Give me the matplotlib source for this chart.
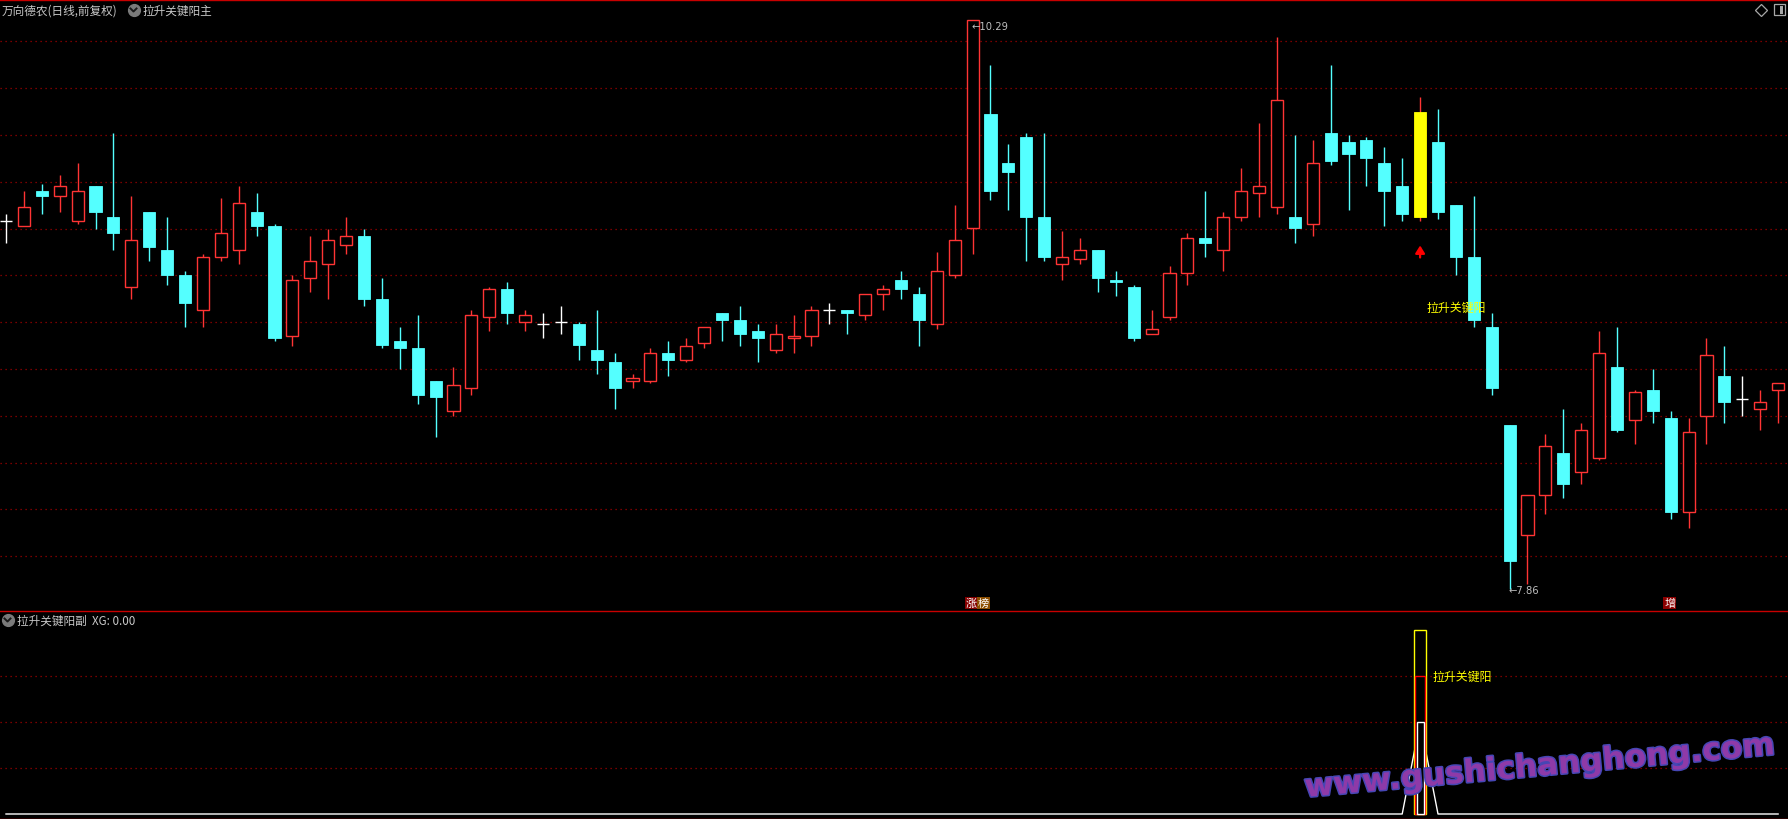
import numpy as np
import matplotlib
matplotlib.use('Agg')
import matplotlib.pyplot as plt
from matplotlib.patches import Rectangle
from matplotlib.lines import Line2D
import matplotlib.patheffects as pe
from matplotlib.transforms import offset_copy

plt.rcParams['font.family'] = ['Noto Sans CJK SC', 'DejaVu Sans']

# ---------------- data (daily OHLC, 100 bars) ----------------
open_ = [9.43, 9.41, 9.56, 9.54, 9.43, 9.58, 9.45, 9.15, 9.47, 9.31,
         9.20, 9.05, 9.28, 9.31, 9.47, 9.41, 8.94, 9.19, 9.25, 9.33,
         9.37, 9.10, 8.92, 8.89, 8.75, 8.62, 8.72, 9.02, 9.14, 9.00,
         8.99, 9.00, 8.99, 8.88, 8.83, 8.75, 8.75, 8.87, 8.84, 8.91,
         9.04, 9.01, 8.96, 8.88, 8.93, 8.94, 9.05, 9.05, 9.03, 9.12,
         9.18, 9.12, 8.99, 9.20, 9.40, 9.89, 9.68, 9.79, 9.45, 9.25,
         9.27, 9.31, 9.18, 9.15, 8.95, 9.02, 9.21, 9.36, 9.31, 9.45,
         9.55, 9.49, 9.45, 9.42, 9.81, 9.77, 9.78, 9.68, 9.58, 9.45,
         9.77, 9.50, 9.28, 8.98, 8.56, 8.09, 8.26, 8.44, 8.36, 8.42,
         8.81, 8.58, 8.71, 8.59, 8.19, 8.60, 8.77, 8.67, 8.63, 8.71]
high = [9.46, 9.56, 9.59, 9.63, 9.68, 9.58, 9.81, 9.54, 9.47, 9.45,
        9.22, 9.29, 9.53, 9.58, 9.55, 9.42, 9.20, 9.37, 9.40, 9.45,
        9.40, 9.19, 8.98, 9.03, 8.75, 8.81, 9.05, 9.15, 9.17, 9.05,
        9.04, 9.07, 9.00, 9.05, 8.87, 8.78, 8.89, 8.92, 8.93, 8.98,
        9.04, 9.07, 8.99, 8.99, 9.03, 9.07, 9.08, 9.05, 9.12, 9.16,
        9.22, 9.15, 9.30, 9.50, 10.29, 10.10, 9.76, 9.81, 9.81, 9.39,
        9.36, 9.31, 9.22, 9.16, 9.05, 9.24, 9.38, 9.56, 9.47, 9.66,
        9.85, 10.22, 9.80, 9.78, 10.10, 9.80, 9.79, 9.75, 9.70, 9.96,
        9.91, 9.50, 9.54, 9.04, 8.56, 8.26, 8.52, 8.63, 8.57, 8.96,
        8.98, 8.71, 8.80, 8.62, 8.59, 8.93, 8.90, 8.77, 8.71, 8.74]
low = [9.34, 9.41, 9.46, 9.47, 9.42, 9.40, 9.31, 9.10, 9.26, 9.16,
       8.98, 8.98, 9.26, 9.25, 9.37, 8.92, 8.90, 9.13, 9.10, 9.29,
       9.07, 8.89, 8.80, 8.65, 8.51, 8.60, 8.69, 8.96, 8.99, 8.96,
       8.93, 8.95, 8.84, 8.78, 8.63, 8.72, 8.74, 8.77, 8.83, 8.89,
       8.92, 8.90, 8.83, 8.87, 8.87, 8.90, 8.99, 8.95, 9.01, 9.05,
       9.10, 8.90, 8.97, 9.19, 9.29, 9.52, 9.48, 9.26, 9.26, 9.18,
       9.25, 9.13, 9.11, 8.92, 8.95, 9.01, 9.16, 9.28, 9.22, 9.43,
       9.45, 9.46, 9.34, 9.37, 9.67, 9.48, 9.58, 9.41, 9.43, 9.43,
       9.44, 9.20, 8.98, 8.69, 7.86, 7.88, 8.18, 8.25, 8.31, 8.41,
       8.53, 8.48, 8.57, 8.16, 8.12, 8.48, 8.57, 8.60, 8.54, 8.57]
close = [9.43, 9.49, 9.54, 9.58, 9.56, 9.47, 9.38, 9.35, 9.32, 9.20,
         9.08, 9.28, 9.38, 9.51, 9.41, 8.93, 9.18, 9.26, 9.35, 9.37,
         9.10, 8.90, 8.89, 8.69, 8.68, 8.73, 9.03, 9.14, 9.04, 9.03,
         8.99, 9.00, 8.90, 8.84, 8.72, 8.76, 8.87, 8.84, 8.90, 8.98,
         9.01, 8.95, 8.93, 8.95, 8.94, 9.05, 9.05, 9.04, 9.12, 9.14,
         9.14, 9.01, 9.22, 9.35, 10.29, 9.56, 9.64, 9.45, 9.28, 9.28,
         9.31, 9.19, 9.17, 8.93, 8.97, 9.21, 9.36, 9.34, 9.45, 9.56,
         9.58, 9.95, 9.40, 9.68, 9.69, 9.72, 9.70, 9.56, 9.46, 9.90,
         9.47, 9.28, 9.01, 8.72, 7.98, 8.26, 8.47, 8.31, 8.54, 8.87,
         8.54, 8.70, 8.62, 8.19, 8.53, 8.86, 8.66, 8.67, 8.66, 8.74]

key_bar = 79                 # 拉升关键阳 signal bar
limit_up_bar = 54            # 涨榜
zeng_bar = 93                # 增
high_label = (54, 10.29)
low_label = (84, 7.86)

main_grid = [10.2, 10.0, 9.8, 9.6, 9.4, 9.2, 9.0, 8.8, 8.6, 8.4, 8.2, 8.0]
sub_grid = [1, 2, 3]
sub_yellow = 4
sub_red = 3
sub_white = 2
sub_line = [0] * 79 + [2] + [0] * 20

title_main = '万向德农(日线,前复权)'
title_ind = '拉升关键阳主'
title_sub = '拉升关键阳副  XG: 0.00'
signal_text = '拉升关键阳'

# ---------------- styling ----------------
RED = '#FF3434'
CYAN = '#54FFFF'
YELLOW = '#FFFF00'
GRID = '#A00000'
SEP = '#C80000'
GRAY = '#C8C8C8'

W_PX, H_PX = 1788, 820
fig = plt.figure(figsize=(W_PX / 100, H_PX / 100), dpi=100, facecolor='black')

def fx(px):
    return px / W_PX

def fy(py):
    return 1 - py / H_PX

step = 17.9
x0 = 6.0
xlim = (-x0 / step, (W_PX - x0) / step)

MAIN_BOT = 612
ax = fig.add_axes([0, 1 - MAIN_BOT / H_PX, 1, MAIN_BOT / H_PX])
ax2 = fig.add_axes([0, 0, 1, (H_PX - MAIN_BOT) / H_PX])
for a in (ax, ax2):
    a.set_facecolor('black')
    a.set_xticks([])
    a.set_yticks([])
    for s in a.spines.values():
        s.set_visible(False)
    a.set_xlim(*xlim)

# price scale: pixel = 42.3 + (10.2 - p) * 234
ppu = 234.0
ax.set_ylim(10.2 - (MAIN_BOT - 42.3) / ppu, 10.2 + 42.3 / ppu)
ax2.set_ylim(-(H_PX - 815) / 46.0, (815 - MAIN_BOT) / 46.0)

for g in main_grid:
    ax.axhline(g, color=GRID, lw=0.9, ls=(0, (1, 3)), zorder=1)
for g in sub_grid:
    ax2.axhline(g, color=GRID, lw=0.9, ls=(0, (1, 3)), zorder=1)

# ---------------- candles ----------------
BW = 0.68
for i in range(len(open_)):
    o, h, l, c = open_[i], high[i], low[i], close[i]
    if i == key_bar:
        ax.vlines(i, l, h, color=RED, lw=1.0, zorder=2)
        ax.add_patch(Rectangle((i - BW / 2, o), BW, c - o, facecolor=YELLOW,
                               edgecolor=YELLOW, lw=0.6, zorder=3))
    elif c > o:
        ax.vlines(i, l, h, color=RED, lw=1.0, zorder=2)
        ax.add_patch(Rectangle((i - BW / 2, o), BW, c - o, facecolor='black',
                               edgecolor=RED, lw=1.0, zorder=3))
    elif c < o:
        ax.vlines(i, l, h, color=CYAN, lw=1.0, zorder=2)
        ax.add_patch(Rectangle((i - BW / 2, c), BW, o - c, facecolor=CYAN,
                               edgecolor=CYAN, lw=0.6, zorder=3))
    else:
        ax.vlines(i, l, h, color='white', lw=1.0, zorder=2)
        ax.hlines(c, i - BW / 2, i + BW / 2, color='white', lw=1.0, zorder=2)

# signal arrow under key bar (tip 24 px below the bar's low)
tip_tr = offset_copy(ax.transData, fig=fig, x=0, y=-24, units='dots')
ax.annotate('', xy=(key_bar, low[key_bar]), xycoords=tip_tr,
            xytext=(0, -12), textcoords='offset pixels',
            arrowprops=dict(arrowstyle='-|>,head_width=0.28,head_length=0.45',
                            color='#FF0000', lw=1.6, shrinkA=0, shrinkB=0),
            zorder=5)

ax.annotate(signal_text, xy=(key_bar, low[key_bar]), xytext=(6, -86),
            textcoords='offset pixels', color=YELLOW, fontsize=8.6,
            ha='left', va='center', zorder=6)

# high / low labels
ax.annotate('←' + f'{high_label[1]:.2f}', xy=high_label, xytext=(-1, -6),
            textcoords='offset pixels', color='#BEBEBE', fontsize=7.2,
            family='DejaVu Sans', ha='left', va='center', zorder=6)
ax.annotate('←' + f'{low_label[1]:.2f}', xy=low_label, xytext=(-1, -1),
            textcoords='offset pixels', color='#BEBEBE', fontsize=7.2,
            family='DejaVu Sans', ha='left', va='center', zorder=6)

# tag boxes at bottom of main panel
def tag(idx, txt, dx, bg):
    ax.annotate(txt, xy=(idx, 0), xycoords=('data', 'axes fraction'),
                xytext=(dx, 8), textcoords='offset pixels', color='white',
                fontsize=8.0, ha='center', va='center', zorder=7,
                bbox=dict(boxstyle='square,pad=0.08', fc=bg, ec='none'))

tag(limit_up_bar, '涨', -1, '#850000')
tag(limit_up_bar, '榜', 11, '#8C4E00')
tag(zeng_bar, '增', -1, '#8B0000')

# ---------------- sub panel ----------------
xs = np.arange(len(sub_line))
ax2.plot(xs, sub_line, color='white', lw=1.0, zorder=2)
for val, w, col, z in ((sub_yellow, 0.68, YELLOW, 3), (sub_red, 0.52, '#FF0000', 4),
                       (sub_white, 0.40, 'white', 5)):
    ax2.add_patch(Rectangle((key_bar - w / 2, 0), w, val, facecolor='black',
                            edgecolor=col, lw=1.0, zorder=z))
ax2.annotate(signal_text, xy=(key_bar, sub_red), xytext=(12, 0),
             textcoords='offset pixels', color=YELLOW, fontsize=8.6,
             ha='left', va='center', zorder=6)

# ---------------- separators, titles, icons ----------------
for py in (0.5, MAIN_BOT, 819.5):
    fig.add_artist(Line2D([0, 1], [fy(py), fy(py)], color=SEP, lw=1.0,
                          transform=fig.transFigure))

fig.text(fx(2), fy(11.5), title_main, color=GRAY, fontsize=8.4, ha='left', va='center')
fig.text(fx(143), fy(11.5), title_ind, color=GRAY, fontsize=8.4, ha='left', va='center')
fig.text(fx(17), fy(621), title_sub, color=GRAY, fontsize=8.4, ha='left', va='center')

for cx, cy in ((133.5, 11), (7.5, 621)):
    fig.add_artist(Line2D([fx(cx)], [fy(cy)], marker='o', ms=8.5, color='#7A7A7A',
                          mec='#7A7A7A', transform=fig.transFigure))
    fig.add_artist(Line2D([fx(cx - 3), fx(cx), fx(cx + 3)],
                          [fy(cy - 1.5), fy(cy + 1.5), fy(cy - 1.5)],
                          color='#1A1A1A', lw=1.4, transform=fig.transFigure))

# top-right icons
fig.add_artist(Line2D([fx(1760.5)], [fy(10.5)], marker='D', ms=6, mfc='none',
                      mec='#A8A8A8', mew=0.9, transform=fig.transFigure))
fig.add_artist(Rectangle((fx(1773.5), fy(16)), fx(11), 11 / H_PX, fill=False,
                         ec='#A8A8A8', lw=0.9, transform=fig.transFigure))
fig.add_artist(Rectangle((fx(1780), fy(14.5)), fx(2.5), 8 / H_PX, fc='#A8A8A8',
                         ec='none', transform=fig.transFigure))

# watermark
fig.text(fx(1540), fy(768), 'www.gushichanghong.com', color='#8E3AA8', fontsize=22.5,
         family='DejaVu Sans', weight='bold', rotation=5.2, rotation_mode='anchor',
         ha='center', va='center', zorder=10,
         path_effects=[pe.withStroke(linewidth=2.2, foreground='#4646B4')])

fig.savefig('out.png', dpi=100, facecolor='black')
